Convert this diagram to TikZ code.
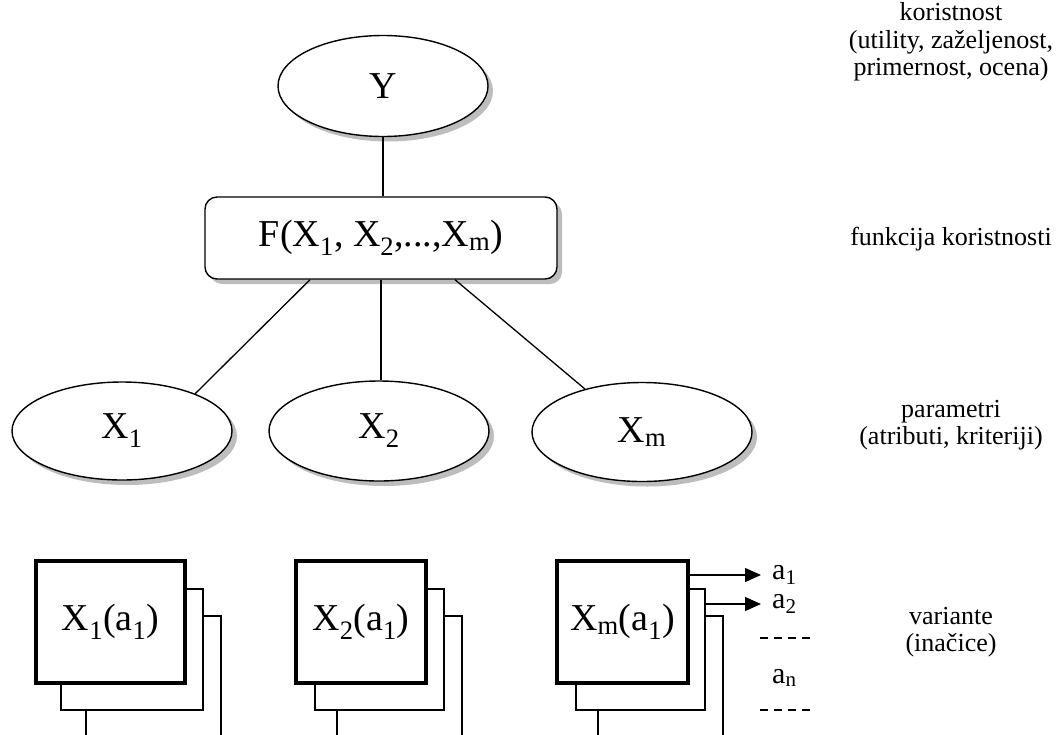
\documentclass[tikz,border=0pt]{standalone}
\usepackage{fontspec}
\setmainfont{Liberation Serif}
\usetikzlibrary{arrows.meta,shapes.geometric,shadows}
\definecolor{shd}{HTML}{BDBDBD}
\tikzset{
  big/.style={font=\fontsize{38}{40}\selectfont},
  sml/.style={font=\fontsize{26}{27.5}\selectfont},
  alab/.style={font=\fontsize{30}{32}\selectfont, anchor=west, inner sep=0pt},
  shdw/.style={drop shadow={shadow xshift=5pt, shadow yshift=-5pt, fill=shd, opacity=1}},
  ell/.style={ellipse, draw, line width=1.4pt, fill=white, inner sep=0pt, big, shdw},
  fbox/.style={rectangle, rounded corners=12pt, draw, line width=1.4pt, fill=white, big, shdw,
    minimum width=352pt, minimum height=82pt},
  frontbox/.style={rectangle, draw, line width=3.8pt, fill=white, inner sep=0pt, big, minimum height=122pt},
  backbox/.style={rectangle, draw, line width=1.4pt, fill=white, inner sep=0pt},
  link/.style={line width=1.3pt},
  arr/.style={-{Triangle[length=16pt, width=14pt]}, line width=1.3pt},
  dashln/.style={line width=1.3pt, dash pattern=on 8pt off 6pt},
  lbl/.style={sml, align=center},
}

\begin{document}
\begin{tikzpicture}[x=1pt, y=-1pt]
  \useasboundingbox (0,0) rectangle (1057,734);
  \clip (0,0) rectangle (1057,734);
  % tree
  \node[ell, minimum width=210pt, minimum height=101pt] (Y) at (383,86) {Y};
  \node[fbox] (F) at (381,238) {F(X\textsubscript{1}, X\textsubscript{2},...,X\textsubscript{m})};
  \node[ell, minimum width=220pt, minimum height=98pt] (X1) at (122,431) {X\textsubscript{1}};
  \node[ell, minimum width=220pt, minimum height=100pt] (X2) at (379,431) {X\textsubscript{2}};
  \node[ell, minimum width=220pt, minimum height=99pt] (Xm) at (642,432) {X\textsubscript{m}};
  \draw[link] (Y.south) -- (Y.south |- F.north);
  \draw[link] ([xshift=-71pt]F.south) -- (X1.27);
  \draw[link] (F.south) -- (F.south |- X2.north);
  \draw[link] ([xshift=74pt]F.south) -- (Xm.143);
  % variants
  \node[backbox, minimum width=135pt, minimum height=122pt] (A13) at (153.5,677) {};
  \node[backbox, minimum width=142pt, minimum height=121pt] (A12) at (132,649.5) {};
  \node[frontbox, minimum width=149pt] (A11) at (110.5,622) {X\textsubscript{1}(a\textsubscript{1})};
  \node[backbox, minimum width=125pt, minimum height=122pt] (A23) at (399.5,677) {};
  \node[backbox, minimum width=129pt, minimum height=121pt] (A22) at (379.5,649.5) {};
  \node[frontbox, minimum width=130pt] (A21) at (361,622) {X\textsubscript{2}(a\textsubscript{1})};
  \node[backbox, minimum width=125pt, minimum height=122pt] (Am3) at (660.5,677) {};
  \node[backbox, minimum width=129pt, minimum height=121pt] (Am2) at (640.5,649.5) {};
  \node[frontbox, minimum width=131pt] (Am1) at (622.5,622) {X\textsubscript{m}(a\textsubscript{1})};
  \node[alab] (a1) at (772,575) {a\textsubscript{1}};
  \node[alab] (a2) at (772,604) {a\textsubscript{2}};
  \node[alab] (an) at (772,678) {a\textsubscript{n}};
  \draw[arr] (Am1.east |- a1.west) -- ([xshift=-11pt]a1.west);
  \draw[arr] (Am2.east |- a2.west) -- ([xshift=-11pt]a2.west);
  \draw[dashln] (760,638) -- (810,638);
  \draw[dashln] (760,710) -- (810,710);
  % labels
  \node[lbl] (util) at (951,42) {koristnost\\(utility, zaželjenost,\\primernost, ocena)};
  \node[lbl] (func) at (951,239) {funkcija koristnosti};
  \node[lbl] (param) at (951,425) {parametri\\(atributi, kriteriji)};
  \node[lbl] (var) at (951,632) {variante\\(inačice)};
\end{tikzpicture}
\end{document}
